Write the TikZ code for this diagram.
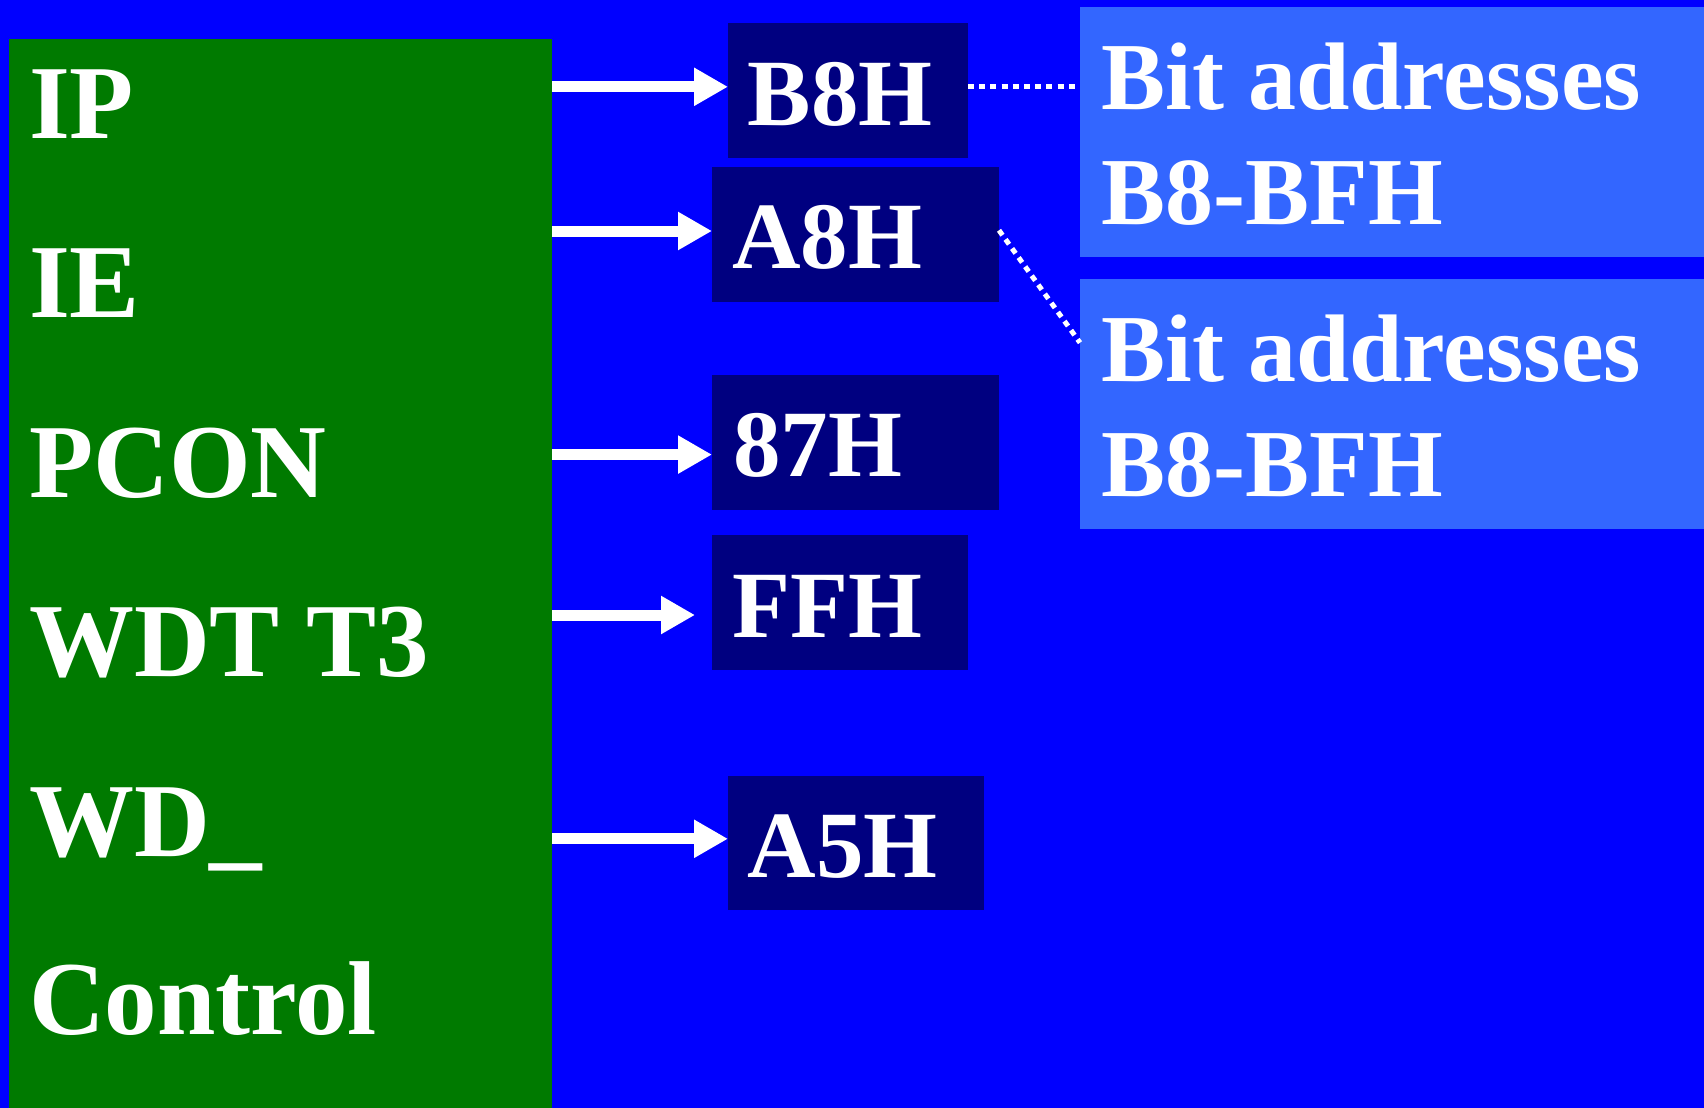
\documentclass[tikz,border=0pt]{standalone}
\usepackage{fontspec}
\setmainfont{Liberation Serif}
\usetikzlibrary{arrows.meta,fit}
\definecolor{bg}{HTML}{0000FF}
\definecolor{regfill}{HTML}{007A00}
\definecolor{addrfill}{HTML}{000080}
\definecolor{notefill}{HTML}{3366FF}
\begin{document}
\begin{tikzpicture}[x=0.5pt,y=-0.5pt,
  box/.style={inner sep=0pt, outer sep=0pt, draw=none},
  lbl/.style={text=white, font=\bfseries\fontsize{52.5}{60}\selectfont, inner sep=0pt, anchor=base west},
  addr/.style={text=white, font=\bfseries\fontsize{47.5}{55}\selectfont, inner sep=0pt, anchor=base west},
  note/.style={text=white, font=\bfseries\fontsize{48}{55}\selectfont, inner sep=0pt, anchor=base west},
  link/.style={white, line width=5.5pt, -{Triangle[length=17pt,width=18pt]}},
  dotline/.style={white, line width=2.5pt, dash pattern=on 3pt off 2.6pt}]

% background
\fill[bg] (0,0) rectangle (1704,1108);
\useasboundingbox (0,0) rectangle (1704,1108);

% register panel
\node[box, fill=regfill, fit={(9,39) (552,1108)}] (regs) {};
\node[lbl] (ip)   at (28.7,138)  {IP};
\node[lbl] (ie)   at (28.7,317)  {IE};
\node[lbl] (pcon) at (28.7,497)  {PCON};
\node[lbl] (wdt)  at (28.7,676.5){WDT T3};
\node[lbl] (wd)   at (28.7,856)  {WD\_};
\node[lbl] (ctl)  at (28.7,1034) {Control};

% address boxes
\node[box, fill=addrfill, fit={(728,23) (968,157.5)}]  (b8h) {};
\node[box, fill=addrfill, fit={(712,167) (999,302)}]   (a8h) {};
\node[box, fill=addrfill, fit={(712,375) (999,509.5)}] (h87) {};
\node[box, fill=addrfill, fit={(712,535) (968,670)}]   (ffh) {};
\node[box, fill=addrfill, fit={(728,775.5) (984,909.5)}] (a5h) {};
\node[addr] at (747.5,125)  {B8H};
\node[addr] at (732,268.5)  {A8H};
\node[addr] at (733,476.6)  {87H};
\node[addr] at (732,637)    {FFH};
\node[addr] at (747.5,877)  {A5H};

% note boxes
\node[box, fill=notefill, fit={(1080,7) (1704,256.5)}]   (note1) {};
\node[box, fill=notefill, fit={(1080,279) (1704,528.5)}] (note2) {};
\node[note] at (1101,109)   {Bit addresses};
\node[note] at (1101,224)   {B8-BFH};
\node[note] at (1101,381.3) {Bit addresses};
\node[note] at (1101,496.2) {B8-BFH};

% arrow levels
\coordinate (l1) at (0,86.8);
\coordinate (l2) at (0,231);
\coordinate (l3) at (0,454.6);
\coordinate (l4) at (0,615);
\coordinate (l5) at (0,838.8);

\draw[link] (regs.east |- l1) -- (b8h.west |- l1);
\draw[link] (regs.east |- l2) -- (a8h.west |- l2);
\draw[link] (regs.east |- l3) -- (h87.west |- l3);
\draw[link, shorten >=8.5pt] (regs.east |- l4) -- (ffh.west |- l4);
\draw[link] (regs.east |- l5) -- (a5h.west |- l5);

% dotted leaders to the notes
\coordinate (d2) at (0,230.3);
\coordinate (d3) at (0,342.7);
\draw[dotline] (b8h.east |- l1) -- (note1.west |- l1);
\draw[dotline] (a8h.east |- d2) -- (note2.west |- d3);
\end{tikzpicture}
\end{document}
